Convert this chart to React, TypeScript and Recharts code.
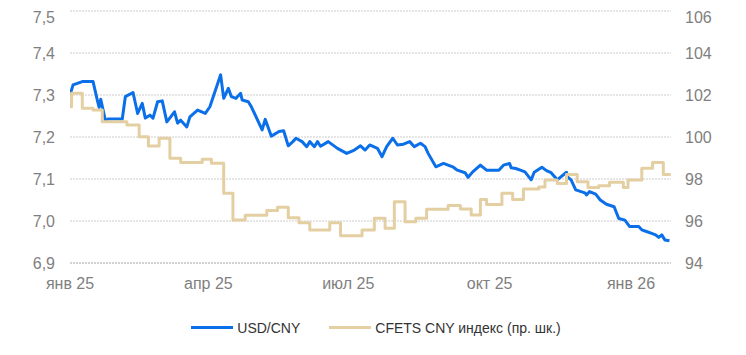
import React from 'react';
import { LineChart, Line, XAxis, YAxis, CartesianGrid, Legend } from 'recharts';

// days counted from 1 Jan 2025
const usdDays = [
  0, 2, 8, 15, 18, 19, 20, 23, 25, 34, 36, 41, 44, 47, 49, 52, 54, 57, 60, 63,
  68, 70, 72, 76, 78, 83, 88, 91, 98, 100, 103, 105, 108, 111, 112, 116, 118, 125, 127, 131,
  136, 139, 142, 145, 147, 151, 154, 156, 159, 161, 163, 168, 174, 180, 185, 189, 192, 195, 200, 203,
  206, 210, 213, 217, 221, 224, 228, 231, 233, 238, 243, 249, 252, 257, 259, 262, 267, 271, 279, 282,
  286, 287, 290, 293, 296, 300, 302, 307, 310, 313, 317, 323, 324, 326, 329, 335, 336, 338, 342, 345,
  349, 354, 357, 361, 364, 370, 372, 375, 378, 381, 383, 385, 387, 390,
];
const usdCny = [
  7.300, 7.324, 7.332, 7.332, 7.284, 7.270, 7.290, 7.240, 7.243, 7.243, 7.296, 7.306, 7.256, 7.280, 7.245, 7.252, 7.245, 7.284, 7.286, 7.236,
  7.260, 7.233, 7.240, 7.224, 7.248, 7.264, 7.256, 7.272, 7.348, 7.292, 7.316, 7.296, 7.292, 7.304, 7.288, 7.284, 7.272, 7.217, 7.242, 7.202,
  7.213, 7.215, 7.179, 7.189, 7.197, 7.189, 7.177, 7.189, 7.177, 7.189, 7.178, 7.189, 7.173, 7.161, 7.169, 7.179, 7.169, 7.181, 7.173, 7.153,
  7.177, 7.197, 7.181, 7.183, 7.189, 7.177, 7.185, 7.177, 7.161, 7.129, 7.137, 7.129, 7.121, 7.115, 7.104, 7.117, 7.133, 7.121, 7.121, 7.133,
  7.137, 7.127, 7.125, 7.121, 7.117, 7.098, 7.116, 7.128, 7.120, 7.115, 7.098, 7.116, 7.104, 7.098, 7.074, 7.067, 7.062, 7.070, 7.064, 7.050,
  7.040, 7.034, 7.006, 7.002, 6.987, 6.987, 6.979, 6.975, 6.971, 6.967, 6.961, 6.967, 6.955, 6.953,
];

const cfetsDays = [
  0, 1, 8, 15, 21, 37, 45, 51, 58, 65, 72, 86, 92, 100, 106, 114, 128, 135, 142, 149,
  156, 169, 176, 190, 198, 205, 211, 218, 225, 232, 246, 254, 261, 267, 271, 281, 288, 295, 305, 309,
  317, 323, 330, 337, 344, 351, 360, 363, 372, 379, 386, 390,
];
const cfetsIndex = [
  101.44, 102.08, 101.37, 101.29, 100.73, 100.57, 100.01, 99.57, 99.94, 98.99, 98.78, 98.94, 98.75, 97.32, 96.05, 96.27, 96.50, 96.66, 96.15, 95.92,
  95.57, 95.92, 95.30, 95.57, 96.13, 95.65, 96.92, 95.97, 96.13, 96.56, 96.74, 96.57, 96.29, 97.02, 96.78, 97.32, 97.02, 97.52, 97.62, 97.95,
  97.79, 98.22, 97.87, 97.60, 97.68, 97.84, 97.59, 97.95, 98.51, 98.78, 98.22, 98.27,
];

const xTicks = [0, 90, 181, 273, 365];
const xTickLabels = ['янв 25', 'апр 25', 'июл 25', 'окт 25', 'янв 26'];
const leftTicks = [6.9, 7.0, 7.1, 7.2, 7.3, 7.4, 7.5];
const rightTicks = [94, 96, 98, 100, 102, 104, 106];

const seriesNames = ['USD/CNY', 'CFETS CNY индекс (пр. шк.)'];
const BLUE = '#0a6fe8';
const TAN = '#e3cfa2';
const FONT = '"Liberation Sans", Arial, sans-serif';

const usdData = usdDays.map((d, i) => ({ day: d, usd: usdCny[i] }));
const cfetsData = cfetsDays.map((d, i) => ({ day: d, cfets: cfetsIndex[i] }));

const LegendContent = () => (
  <div
    style={{
      display: 'flex',
      justifyContent: 'center',
      alignItems: 'center',
      height: 49,
      paddingTop: 10,
      paddingLeft: 6,
      boxSizing: 'border-box',
      fontFamily: FONT,
      fontSize: 14,
      color: '#333',
    }}
  >
    {[BLUE, TAN].map((c, i) => (
      <div key={i} style={{ display: 'flex', alignItems: 'center', marginRight: i === 0 ? 29 : 0 }}>
        <span style={{ display: 'inline-block', width: 42, height: 3, background: c, marginRight: 4 }} />
        <span>{seriesNames[i]}</span>
      </div>
    ))}
  </div>
);

export default function App() {
  const tick = { fontSize: 16, fill: '#7f7f7f', fontFamily: FONT };
  return (
    <LineChart width={730} height={339} margin={{ top: 3, right: 0, left: 0, bottom: 0 }}>
      <CartesianGrid yAxisId="left" vertical={false} stroke="#cccccc" strokeDasharray="2 1" />
      <XAxis
        dataKey="day"
        type="number"
        domain={[0, 391]}
        ticks={xTicks}
        tickFormatter={(v: number) => xTickLabels[xTicks.indexOf(v)] ?? ''}
        allowDataOverflow
        height={35}
        tick={tick}
        tickLine={false}
        tickMargin={9}
        axisLine={{ stroke: '#bfbfbf', strokeDasharray: '2 1' }}
      />
      <YAxis
        yAxisId="left"
        domain={[6.9, 7.5]}
        ticks={leftTicks}
        tickFormatter={(v: number) => v.toFixed(1).replace('.', ',')}
        width={62}
        tick={tick}
        tickLine={false}
        axisLine={false}
        tickMargin={9}
      />
      <YAxis
        yAxisId="right"
        orientation="right"
        domain={[94, 106]}
        ticks={rightTicks}
        width={67}
        tick={tick}
        tickLine={false}
        axisLine={false}
        tickMargin={8}
      />
      <Legend verticalAlign="bottom" height={49} content={<LegendContent />} />
      <Line
        yAxisId="left"
        data={usdData}
        dataKey="usd"
        name={seriesNames[0]}
        type="linear"
        stroke={BLUE}
        strokeWidth={3}
        strokeLinejoin="round"
        dot={false}
        isAnimationActive={false}
      />
      <Line
        yAxisId="right"
        data={cfetsData}
        dataKey="cfets"
        name={seriesNames[1]}
        type="stepAfter"
        stroke={TAN}
        strokeWidth={3}
        strokeLinejoin="round"
        dot={false}
        isAnimationActive={false}
      />
    </LineChart>
  );
}
